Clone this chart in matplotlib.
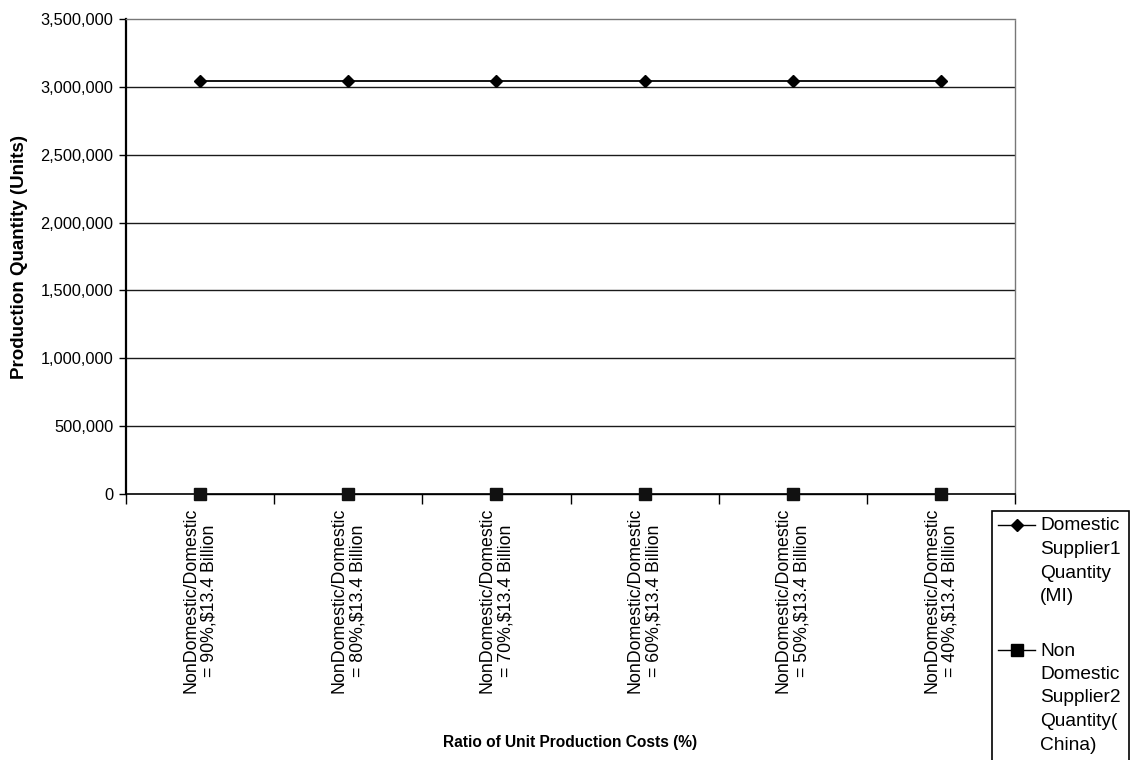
import matplotlib
matplotlib.use("Agg")
import matplotlib.pyplot as plt
from matplotlib.lines import Line2D
from matplotlib.patches import Rectangle
from matplotlib.ticker import FuncFormatter, FixedLocator, NullFormatter

plt.rcParams['font.family'] = ['Liberation Sans', 'DejaVu Sans']

# Data
categories = [
    "NonDomestic/Domestic\n= 90%,$13.4 Billion",
    "NonDomestic/Domestic\n= 80%,$13.4 Billion",
    "NonDomestic/Domestic\n= 70%,$13.4 Billion",
    "NonDomestic/Domestic\n= 60%,$13.4 Billion",
    "NonDomestic/Domestic\n= 50%,$13.4 Billion",
    "NonDomestic/Domestic\n= 40%,$13.4 Billion",
]
domestic_qty = [3040000, 3040000, 3040000, 3040000, 3040000, 3040000]
nondomestic_qty = [0, 0, 0, 0, 0, 0]
series_names = ["Domestic\nSupplier1\nQuantity\n(MI)",
                "Non\nDomestic\nSupplier2\nQuantity(\nChina)"]
y_ticks = [0, 500000, 1000000, 1500000, 2000000, 2500000, 3000000, 3500000]

W, H = 1137, 760
fig = plt.figure(figsize=(W / 100, H / 100), dpi=100)
ax = fig.add_axes([126 / W, 1 - 494 / H, (1015 - 126) / W, (494 - 19) / H])

x = list(range(len(categories)))

ax.set_ylim(0, 3500000)
ax.set_xlim(-0.5, len(categories) - 0.5)

# Horizontal gridlines
for v in y_ticks[1:-1]:
    ax.axhline(v, color='#1a1a1a', lw=1.0, zorder=1)

ax.plot(x, domestic_qty, color='black', lw=1.3, marker='D', ms=6.6,
        mfc='black', mec='black', zorder=3, clip_on=False)
ax.plot(x, nondomestic_qty, color='black', lw=1.0, marker='s', ms=8,
        mfc='#111111', mec='#111111', zorder=3, clip_on=False)

# Axes styling
ax.spines['left'].set_color('black')
ax.spines['left'].set_linewidth(1.6)
ax.spines['bottom'].set_color('black')
ax.spines['bottom'].set_linewidth(1.2)
for s in ('top', 'right'):
    ax.spines[s].set_color('#777777')
    ax.spines[s].set_linewidth(1.0)
    ax.spines[s].set_linestyle((0, (2, 1)))

ax.yaxis.set_major_locator(FixedLocator(y_ticks))
ax.yaxis.set_major_formatter(FuncFormatter(lambda v, p: f"{int(v):,}"))
ax.tick_params(axis='y', direction='out', length=5, width=1.0, labelsize=11.8,
               pad=4, colors='black')

ax.set_xticks(x)
ax.set_xticklabels(categories, rotation=90, fontsize=12.8, ha='center',
                   va='top', linespacing=1.12)
ax.tick_params(axis='x', which='major', length=0, pad=10)
ax.xaxis.set_minor_locator(FixedLocator([i - 0.5 for i in range(len(categories) + 1)]))
ax.xaxis.set_minor_formatter(NullFormatter())
ax.tick_params(axis='x', which='minor', direction='out', length=7, width=1.0)

fig.text(20 / W, 1 - 257 / H, "Production Quantity (Units)", rotation=90,
         ha='center', va='center', fontsize=13.5, fontweight='bold')
fig.text(570 / W, 1 - 742 / H, "Ratio of Unit Production Costs (%)",
         ha='center', va='center', fontsize=11.2, fontweight='bold')

# Legend box
fig.add_artist(Rectangle((992 / W, -0.05), (1129 - 992) / W, 1 - 511 / H + 0.05,
                         transform=fig.transFigure, fill=False, ec='black',
                         lw=1.2, clip_on=False))
legend_y = [525, 650]
markers = [('D', 6.6), ('s', 8)]
for name, ly, (mk, ms) in zip(series_names, legend_y, markers):
    yf = 1 - ly / H
    fig.add_artist(Line2D([998 / W, 1035 / W], [yf, yf], transform=fig.transFigure,
                          color='black', lw=1.0))
    fig.add_artist(Line2D([1017 / W], [yf], transform=fig.transFigure,
                          marker=mk, ms=ms, color='black', lw=0))
    fig.text(1040 / W, 1 - (ly - 7.5) / H, name, ha='left', va='top',
             fontsize=13.8, linespacing=1.5)

fig.savefig("out.png", dpi=100)
